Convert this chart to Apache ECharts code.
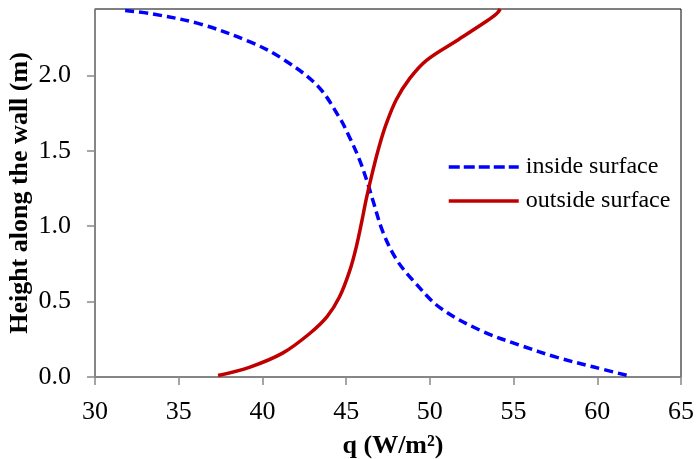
<!DOCTYPE html>
<html>
<head>
<meta charset="UTF-8">
<title>Heat flux along the wall</title>
<style>
  html, body { margin: 0; padding: 0; background: #fff; }
  #chart { width: 696px; height: 459px; }
</style>
</head>
<body>
<div id="chart"></div>
<script src="https://cdn.jsdelivr.net/npm/echarts@6/dist/echarts.min.js"></script>
<script>
// values: q (W/m2) and height (m)
var insideQ = [31.8, 33.3, 36.3, 39.3, 41.2, 43.3, 44.6, 45.2, 45.8, 46.3, 46.6, 47.2, 48.0, 49.0, 50.6, 53.0, 55.4, 57.6, 59.8, 61.8];
var insideH = [2.43, 2.41, 2.34, 2.22, 2.11, 1.93, 1.72, 1.59, 1.44, 1.28, 1.17, 0.96, 0.78, 0.64, 0.46, 0.31, 0.21, 0.13, 0.066, 0.01];
var outsideQ = [37.35, 39.26, 41.23, 42.84, 43.86, 44.6, 45.2, 45.6, 45.95, 46.2, 46.6, 47.0, 47.4, 48.0, 48.8, 49.8, 51.6, 53.4, 54.0, 54.2];
var outsideH = [0.01, 0.066, 0.16, 0.29, 0.40, 0.53, 0.70, 0.86, 1.04, 1.18, 1.37, 1.54, 1.68, 1.84, 1.98, 2.10, 2.23, 2.36, 2.41, 2.44];
var seriesNames = ['inside surface', 'outside surface'];
var seriesColors = ['#0000FF', '#C00000'];
var dashPattern = [9, 5];

function pairs(xs, ys) {
  return xs.map(function (x, i) { return [x, ys[i]]; });
}

var chart = echarts.init(document.getElementById('chart'));
var font = 'Liberation Serif, Times New Roman, serif';

var option = {
  animation: false,
  textStyle: { fontFamily: font },
  grid: {
    left: 95, top: 9, right: 15, bottom: 82,
    outerBoundsMode: 'none', containLabel: false,
    show: true, borderColor: '#000', borderWidth: 1
  },
  legend: {
    orient: 'vertical',
    left: 447, top: 155, padding: 0,
    itemWidth: 70, itemHeight: 14, itemGap: 10,
    itemStyle: { opacity: 0 },
    textStyle: { fontFamily: font, fontSize: 24, color: '#000', padding: [0, 0, 0, 2] },
    data: [
      { name: seriesNames[0], lineStyle: { color: seriesColors[0], width: 3.5, type: [11, 4] } },
      { name: seriesNames[1], lineStyle: { color: seriesColors[1], width: 3.5, type: 'solid' } }
    ]
  },
  xAxis: {
    type: 'value', min: 30, max: 65, interval: 5,
    name: 'q (W/m²)', nameLocation: 'middle', nameGap: 56, nameMoveOverlap: false,
    nameTextStyle: { fontFamily: font, fontSize: 26, fontWeight: 'bold', color: '#000', padding: [0, 0, 0, 10] },
    axisLine: { lineStyle: { color: '#888', width: 1.5 } },
    axisTick: { show: true, inside: false, length: 8, lineStyle: { color: '#888', width: 1.5 } },
    axisLabel: { fontFamily: font, fontSize: 26, color: '#000', margin: 22 },
    splitLine: { show: false }
  },
  yAxis: {
    type: 'value', min: 0, max: 2.44, interval: 0.5,
    name: 'Height along the wall (m)', nameLocation: 'middle', nameGap: 62, nameMoveOverlap: false,
    nameTextStyle: { fontFamily: font, fontSize: 26, fontWeight: 'bold', color: '#000' },
    axisLine: { show: true, lineStyle: { color: '#888', width: 1.5 } },
    axisTick: { show: true, inside: false, length: 8, lineStyle: { color: '#888', width: 1.5 } },
    axisLabel: {
      fontFamily: font, fontSize: 26, color: '#000', margin: 24, showMaxLabel: false,
      formatter: function (v) { return v.toFixed(1); }
    },
    splitLine: { show: false }
  },
  series: [
    {
      name: seriesNames[0], type: 'line', smooth: 0.35, symbol: 'none',
      lineStyle: { color: seriesColors[0], width: 3.5, type: dashPattern },
      itemStyle: { color: seriesColors[0] },
      data: pairs(insideQ, insideH)
    },
    {
      name: seriesNames[1], type: 'line', smooth: 0.35, symbol: 'none',
      lineStyle: { color: seriesColors[1], width: 3.5 },
      itemStyle: { color: seriesColors[1] },
      data: pairs(outsideQ, outsideH)
    }
  ]
};

chart.setOption(option);
</script>
</body>
</html>
